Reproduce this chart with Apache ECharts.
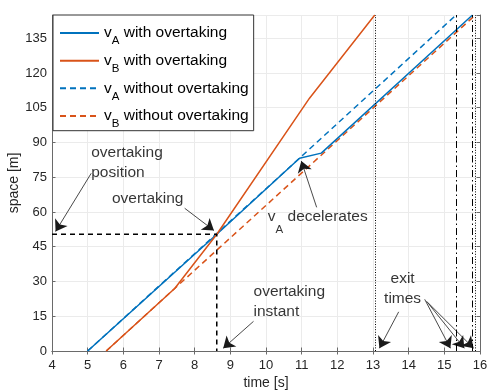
<!DOCTYPE html>
<html>
<head>
<meta charset="utf-8">
<script src="https://cdn.jsdelivr.net/npm/echarts@6/dist/echarts.min.js"></script>
<style>
html, body { margin: 0; padding: 0; background: #fff; }
#main { width: 489px; height: 390px; }
</style>
</head>
<body>
<div id="main"></div>
<script>
// curves, points are [time s, space m]
var vAWith = [[5.0, 0], [8.62, 50.4], [10.94, 83.2], [11.55, 85.4], [15.79, 145]];
var vBWith = [[5.52, 0], [7.44, 27], [8.62, 50.4], [11.22, 109.1], [13.05, 145]];
var vAWithout = [[5.0, 0], [10.94, 83.2], [15.33, 145]];
var vBWithout = [[5.52, 0], [7.44, 27], [15.87, 145]];

// overtaking instant / position
var overtakeT = 8.62;
var overtakeS = 50.4;

// exit times (where each curve leaves the road, top of plot)
var exitTimes = [13.05, 15.33, 15.79, 15.87];
var exitDash = ['dot', 'dashdot', 'dashdot', 'dot'];

// axes
var xMin = 4, xMax = 16, xStep = 1;
var yMin = 0, yMax = 145, yStep = 15;

var legendNames = ['vA with overtaking', 'vB with overtaking', 'vA without overtaking', 'vB without overtaking'];

var blue = '#0072BD';
var orange = '#D95319';
var axisGray = '#6a6a6a';
var txt = '#262626';
var font = 'Liberation Sans, Arial, Helvetica, sans-serif';

var dashTypes = {
    dot: [1, 1.6],
    dashdot: [7, 3, 1.5, 3]
};

// rich styles for v with a subscript letter
function subRich(size) {
    return {
        v: { fontSize: size, fontFamily: font, color: '#000', verticalAlign: 'middle' },
        s: { fontSize: 11.5, fontFamily: font, color: '#000', verticalAlign: 'top', padding: [16.5, 0, 0, 0] },
        t: { fontSize: size, fontFamily: font, color: '#000', verticalAlign: 'middle' }
    };
}

var myChart = echarts.init(document.getElementById('main'), null, { renderer: 'canvas' });

// annotation texts, anchored at their top-left corner in data units
var notes = [
    { value: [5.10, 89.9], text: 'overtaking\nposition', align: 'left' },
    { value: [5.68, 69.9], text: 'overtaking', align: 'left' },
    { value: [10.05, 62.1], text: '{v|v}{s|A}{t| decelerates}', align: 'left', rich: true },
    { value: [9.65, 29.8], text: 'overtaking\ninstant', align: 'left' },
    { value: [13.83, 35.6], text: 'exit\ntimes', align: 'center' }
];

// arrows: [tail, head]
var arrows = [
    [[5.10, 76.7], [4.10, 51.6]],
    [[7.72, 61.6], [8.54, 52.0]],
    [[11.42, 62.0], [10.99, 82.0]],
    [[9.65, 12.8], [8.80, 1.2]],
    [[13.72, 16.9], [13.18, 1.2]],
    [[14.45, 22.3], [15.17, 1.2]],
    [[14.50, 21.5], [15.56, 1.2]],
    [[14.55, 20.7], [15.82, 1.2]]
];

var option = {
    animation: false,
    backgroundColor: '#fff',
    textStyle: { fontFamily: font },
    grid: { left: 52, right: 9, top: 15, bottom: 39, containLabel: false, outerBoundsMode: 'none' },
    legend: {
        data: legendNames,
        orient: 'vertical',
        left: 53,
        top: 15,
        padding: [10, 5, 0.5, 6],
        itemGap: 5.4,
        itemWidth: 39,
        itemHeight: 12,
        backgroundColor: '#fff',
        borderColor: '#333',
        borderWidth: 1,
        borderRadius: 0,
        selectedMode: false,
        itemStyle: { opacity: 0 },
        formatter: function (name) {
            return '{v|v}{s|' + name.charAt(1) + '}{t|' + name.slice(2) + '}';
        },
        textStyle: { rich: subRich(15.5) }
    },
    xAxis: [{
        type: 'value', min: xMin, max: xMax, interval: xStep,
        name: 'time [s]', nameLocation: 'middle', nameGap: 25, nameMoveOverlap: false,
        nameTextStyle: { fontSize: 14, color: txt, fontFamily: font },
        axisLine: { show: true, lineStyle: { color: axisGray, width: 1 } },
        axisTick: { show: true, inside: true, length: 3.5, lineStyle: { color: axisGray } },
        axisLabel: { fontSize: 13, color: txt, margin: 8, fontFamily: font },
        splitLine: { show: true, lineStyle: { color: '#ebebeb', width: 1 } }
    }, {
        type: 'value', min: xMin, max: xMax, interval: xStep, position: 'top',
        axisLine: { show: true, lineStyle: { color: axisGray, width: 1 } },
        axisTick: { show: true, inside: true, length: 3.5, lineStyle: { color: axisGray } },
        axisLabel: { show: false },
        splitLine: { show: false }
    }],
    yAxis: [{
        type: 'value', min: yMin, max: yMax, interval: yStep,
        name: 'space [m]', nameLocation: 'middle', nameGap: 31, nameMoveOverlap: false,
        nameTextStyle: { fontSize: 14, color: txt, fontFamily: font },
        axisLine: { show: true, lineStyle: { color: axisGray, width: 1 } },
        axisTick: { show: true, inside: true, length: 3.5, lineStyle: { color: axisGray } },
        axisLabel: {
            fontSize: 13, color: txt, margin: 5, fontFamily: font,
            formatter: function (v) { return v % yStep === 0 ? String(v) : ''; }
        },
        splitLine: { show: true, lineStyle: { color: '#ebebeb', width: 1 } }
    }, {
        type: 'value', min: yMin, max: yMax, interval: yStep, position: 'right',
        axisLine: { show: true, lineStyle: { color: axisGray, width: 1 } },
        axisTick: { show: true, inside: true, length: 3.5, lineStyle: { color: axisGray } },
        axisLabel: { show: false },
        splitLine: { show: false }
    }],
    series: [
        {
            name: 'vA without overtaking', type: 'line', data: vAWithout,
            symbol: 'none', silent: true,
            lineStyle: { color: blue, width: 1.5, type: [6, 4] }, itemStyle: { color: blue }
        },
        {
            name: 'vB without overtaking', type: 'line', data: vBWithout,
            symbol: 'none', silent: true,
            lineStyle: { color: orange, width: 1.5, type: [6, 4] }, itemStyle: { color: orange }
        },
        {
            name: 'vA with overtaking', type: 'line', data: vAWith,
            symbol: 'none', silent: true,
            lineStyle: { color: blue, width: 1.5 }, itemStyle: { color: blue }
        },
        {
            name: 'vB with overtaking', type: 'line', data: vBWith,
            symbol: 'none', silent: true,
            lineStyle: { color: orange, width: 1.5 }, itemStyle: { color: orange }
        },
        {
            // overtaking guide lines + arrows
            name: 'overtake', type: 'line', symbol: 'none', silent: true,
            data: [[xMin, overtakeS], [overtakeT, overtakeS], [overtakeT, yMin]],
            lineStyle: { color: '#000', width: 1.5, type: [5, 4] },
            markLine: {
                silent: true,
                symbol: ['none', 'arrow'],
                symbolSize: 11,
                label: { show: false },
                lineStyle: { color: '#1a1a1a', width: 0.8, type: 'solid' },
                emphasis: { disabled: true },
                data: arrows.map(function (a) {
                    return [{ coord: a[0] }, { coord: a[1] }];
                })
            }
        },
        {
            // texts + exit time verticals
            name: 'notes', type: 'scatter', symbolSize: 0, silent: true,
            data: notes.map(function (n) {
                return {
                    value: n.value,
                    label: {
                        show: true,
                        position: [0, 0],
                        formatter: n.text,
                        align: n.align,
                        verticalAlign: 'top',
                        fontSize: 15.5,
                        lineHeight: 20,
                        color: '#000',
                        fontFamily: font,
                        rich: n.rich ? subRich(15.5) : undefined
                    }
                };
            }),
            markLine: {
                silent: true,
                symbol: ['none', 'none'],
                label: { show: false },
                emphasis: { disabled: true },
                data: exitTimes.map(function (t, i) {
                    return { xAxis: t, lineStyle: { color: '#000', width: 1, type: dashTypes[exitDash[i]] } };
                })
            }
        }
    ]
};

myChart.setOption(option);
window.onresize = function () {
    myChart.resize();
};
</script>
</body>
</html>
